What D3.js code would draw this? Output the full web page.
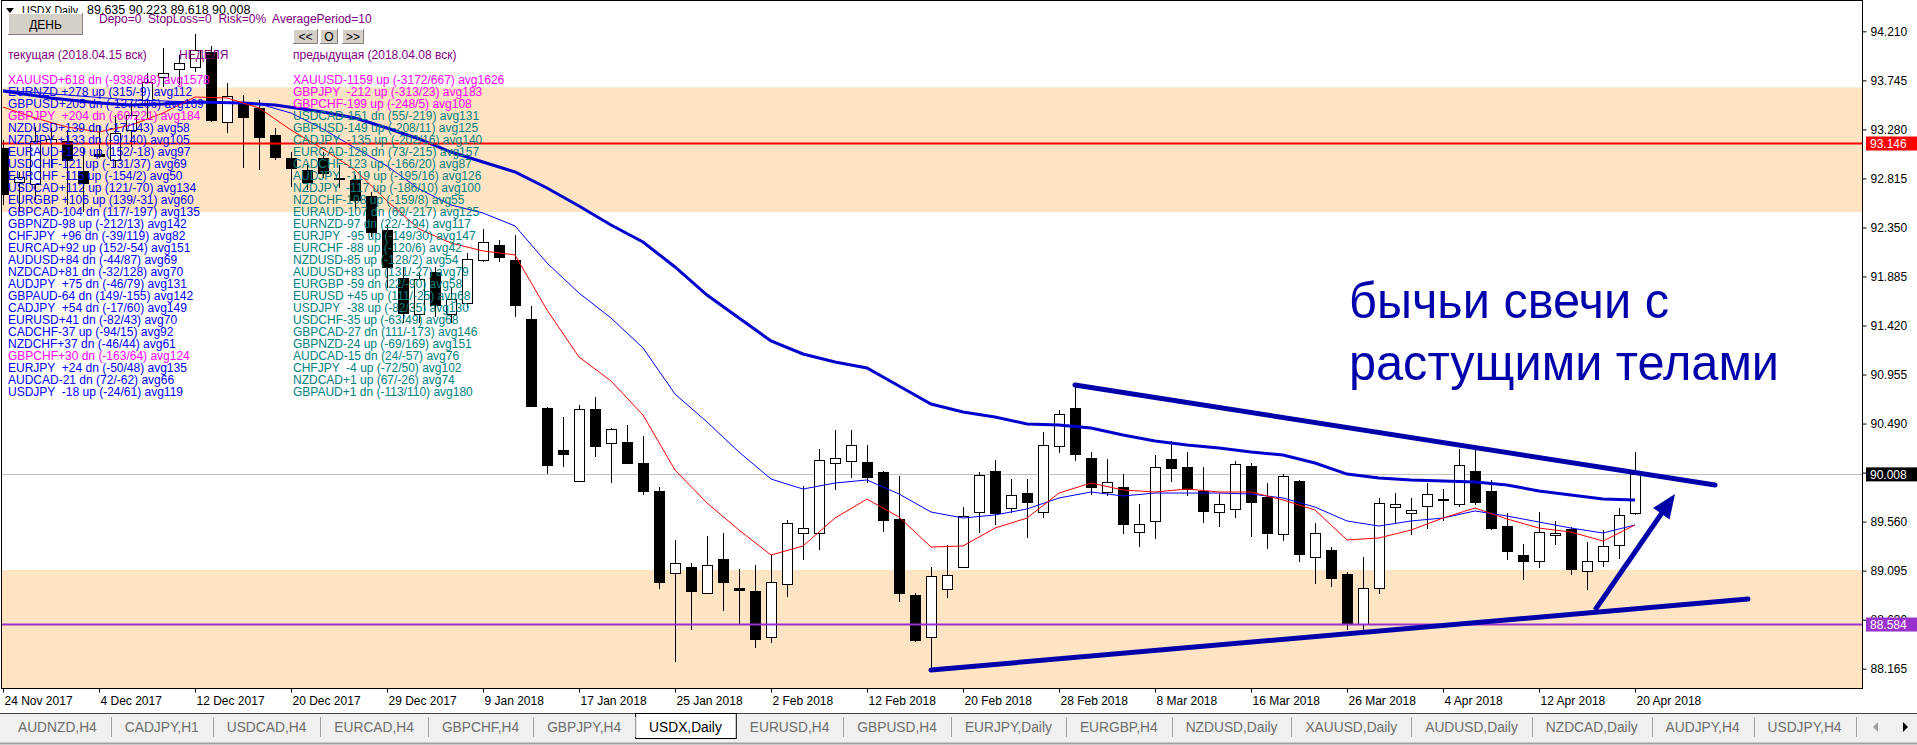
<!DOCTYPE html>
<html>
<head>
<meta charset="utf-8">
<script src="https://cdn.jsdelivr.net/npm/d3@7"></script>
<style>
body { margin: 0; background: #fff; overflow: hidden; }
text { font-family: "Liberation Sans", Arial, sans-serif; }
</style>
</head>
<body>
<div id="vis1"></div>
<script>
const frame_width = 1917;
const frame_height = 745;
const plot = {left: 1, right: 1862, top: 0, bottom: 688};

// daily bars, 24 Nov 2017 .. 20 Apr 2018
const open = [93.103,92.781,92.762,93.151,93.170,92.885,93.046,92.990,93.274,93.559,93.777,93.853,93.872,94.014,93.350,93.530,93.483,93.227,93.009,92.895,93.009,92.815,92.800,92.648,92.326,91.870,91.529,91.927,91.529,91.633,92.041,92.183,92.041,91.482,90.638,90.239,89.945,90.628,90.306,90.315,90.116,89.850,89.073,89.129,88.883,89.205,88.930,88.902,88.466,88.968,89.452,89.452,90.116,90.135,90.125,90.031,89.585,88.864,88.466,88.921,89.129,89.651,90.040,89.689,89.831,89.651,90.277,90.638,90.163,89.841,89.888,89.461,89.566,90.154,90.078,89.850,89.651,89.680,90.087,89.793,89.443,89.945,89.224,89.291,89.063,88.589,88.930,89.698,89.642,89.708,89.765,89.727,90.040,89.850,89.518,89.243,89.186,89.433,89.490,89.092,89.186,89.338,89.635];
const high = [93.179,92.876,93.303,93.293,93.274,93.103,93.312,93.416,93.540,93.815,94.052,93.985,94.185,94.071,93.720,93.606,93.559,93.293,93.065,92.961,93.065,92.942,92.847,92.686,92.373,91.975,91.918,91.975,91.785,92.108,92.335,92.231,92.278,91.605,90.647,90.552,90.666,90.742,90.448,90.476,90.372,89.888,89.386,89.167,89.424,89.452,89.110,89.148,89.243,89.575,89.898,90.249,90.429,90.429,90.287,90.040,89.993,88.883,89.129,89.338,89.698,90.031,90.144,89.964,89.964,90.410,90.619,90.856,90.220,90.154,90.011,89.727,90.192,90.325,90.220,90.078,89.822,90.135,90.116,89.926,90.011,89.955,89.547,89.319,89.082,89.224,89.784,89.831,89.784,89.926,89.869,90.249,90.239,89.955,89.642,89.348,89.651,89.566,89.509,89.367,89.480,89.689,90.223];
const low = [92.563,92.496,92.610,92.914,92.563,92.496,93.009,92.923,93.113,93.388,93.682,93.701,93.824,93.350,93.246,92.914,92.895,92.990,92.734,92.705,92.819,92.724,92.515,92.259,91.776,91.444,91.444,91.501,91.444,91.586,92.022,92.022,91.501,90.647,90.011,90.078,89.936,90.173,89.926,90.106,89.812,88.921,88.229,88.532,88.883,88.712,88.589,88.361,88.409,88.845,89.196,89.291,89.860,89.974,89.926,89.461,88.798,88.418,88.153,88.836,89.120,89.452,89.528,89.642,89.405,89.594,90.211,90.135,89.812,89.803,89.443,89.319,89.395,89.936,89.803,89.547,89.509,89.594,89.414,89.300,89.376,89.177,88.968,88.940,88.532,88.513,88.874,89.547,89.433,89.490,89.566,89.698,89.718,89.480,89.196,89.006,89.120,89.338,89.054,88.911,89.129,89.205,89.618];
const close = [92.667,92.828,93.170,93.189,92.990,92.771,93.027,93.246,93.416,93.729,93.815,93.909,94.033,93.369,93.597,93.397,93.208,93.018,92.914,92.781,92.866,92.822,92.610,92.307,91.975,91.539,91.861,91.614,91.671,92.051,92.212,92.070,91.614,90.656,90.097,90.201,90.628,90.277,90.438,90.116,89.850,88.987,89.167,88.902,89.148,88.987,88.911,88.447,88.987,89.547,89.499,90.144,90.163,90.287,89.983,89.575,88.883,88.437,89.044,89.054,89.613,90.002,89.642,89.812,89.746,90.287,90.581,90.201,89.888,89.936,89.537,89.537,90.078,90.069,89.869,89.661,89.727,90.106,89.746,89.452,89.993,89.253,89.452,89.025,88.598,88.930,89.737,89.727,89.670,89.822,89.774,90.097,89.746,89.499,89.281,89.186,89.461,89.452,89.111,89.186,89.329,89.623,90.008];

// moving averages (bar index / price)
const ma_slow_idx = [0,3,6,8,10,12,15,17,20,22,24,26,28,30,32,34,36,38,40,42,44,46,48,50,52,54,56,58,60,62,64,66,68,70,72,74,76,78,80,82,84,86,88,90,92,94,96,98,100,102];
const ma_slow_val = [93.644,93.578,93.530,93.511,93.521,93.540,93.530,93.511,93.445,93.388,93.293,93.189,93.065,92.971,92.876,92.724,92.553,92.373,92.212,91.975,91.709,91.491,91.273,91.150,91.074,91.017,90.846,90.675,90.600,90.552,90.486,90.476,90.448,90.381,90.325,90.287,90.258,90.220,90.192,90.116,90.011,89.974,89.955,89.945,89.936,89.907,89.850,89.812,89.774,89.765];
const ma_mid_idx = [0,4,8,12,16,18,20,22,24,26,28,30,32,34,36,38,40,42,44,46,48,50,52,54,56,58,60,62,64,66,68,70,72,74,76,78,80,82,84,86,88,90,92,94,96,98,100,102];
const ma_mid_val = [93.653,93.606,93.559,93.540,93.521,93.435,93.284,93.103,92.933,92.715,92.563,92.487,92.364,92.013,91.728,91.491,91.207,90.770,90.505,90.220,89.964,89.869,89.926,89.955,89.822,89.651,89.594,89.623,89.680,89.784,89.841,89.803,89.831,89.831,89.831,89.822,89.784,89.698,89.566,89.518,89.566,89.594,89.661,89.613,89.556,89.499,89.452,89.528];
const ma_fast_idx = [0,2,4,6,8,10,12,14,16,18,20,22,24,26,28,30,32,34,36,38,40,42,44,46,48,50,52,54,56,58,60,62,64,66,68,70,72,74,76,78,80,82,84,86,88,90,92,94,96,98,100,102];
const ma_fast_val = [93.492,93.388,93.303,93.255,93.321,93.435,93.587,93.578,93.483,93.274,93.094,92.895,92.601,92.335,92.202,92.127,92.089,91.567,91.121,90.894,90.571,90.049,89.737,89.480,89.243,89.329,89.594,89.774,89.604,89.319,89.329,89.499,89.594,89.831,89.926,89.860,89.841,89.869,89.841,89.841,89.765,89.670,89.386,89.405,89.480,89.594,89.689,89.585,89.499,89.461,89.376,89.528];

const zones = [[93.679, 92.496], [89.101, 87.982]];
const red_level = 93.146;
const purple_level = 88.584;
const upper_trend = [[67, 90.856], [107, 89.907]];
const lower_trend = [[58, 88.153], [109.06, 88.826]];
const arrow = [[99.5, 88.722], [104.5, 89.822]];

const price_ticks = [94.210,93.745,93.280,92.815,92.350,91.885,91.420,90.955,90.490,90.025,89.560,89.095,88.630,88.165];
const date_labels = ["24 Nov 2017","4 Dec 2017","12 Dec 2017","20 Dec 2017","29 Dec 2017","9 Jan 2018","17 Jan 2018","25 Jan 2018","2 Feb 2018","12 Feb 2018","20 Feb 2018","28 Feb 2018","8 Mar 2018","16 Mar 2018","26 Mar 2018","4 Apr 2018","12 Apr 2018","20 Apr 2018"];
const bars_per_label = 6;

const header_ohlc = "89.635 90.223 89.618 90.008";
const left_rows = ["XAUUSD+618 dn (-938/868) avg1578","EURNZD +278 up (315/-9) avg112","GBPUSD+205 dn (-137/206) avg169","GBPJPY  +204 dn (-60/221) avg184","NZDUSD+139 dn (-17/143) avg58","NZDJPY +133 dn (-9/140) avg105","EURAUD+129 up (152/-18) avg97","USDCHF-121 up (-131/37) avg69","EURCHF -115 up (-154/2) avg50","USDCAD+112 up (121/-70) avg134","EURGBP +106 up (139/-31) avg60","GBPCAD-104 dn (117/-197) avg135","GBPNZD-98 up (-212/13) avg142","CHFJPY  +96 dn (-39/119) avg82","EURCAD+92 up (152/-54) avg151","AUDUSD+84 dn (-44/87) avg69","NZDCAD+81 dn (-32/128) avg70","AUDJPY  +75 dn (-46/79) avg131","GBPAUD-64 dn (149/-155) avg142","CADJPY  +54 dn (-17/60) avg149","EURUSD+41 dn (-82/43) avg70","CADCHF-37 up (-94/15) avg92","NZDCHF+37 dn (-46/44) avg61","GBPCHF+30 dn (-163/64) avg124","EURJPY  +24 dn (-50/48) avg135","AUDCAD-21 dn (72/-62) avg66","USDJPY  -18 up (-24/61) avg119"];
const left_hot = [0, 3, 23];
const right_rows = ["XAUUSD-1159 up (-3172/667) avg1626","GBPJPY  -212 up (-313/23) avg183","GBPCHF-199 up (-248/5) avg108","USDCAD-151 dn (55/-219) avg131","GBPUSD-149 up (-208/11) avg125","CADJPY  -135 up (-202/16) avg140","EURCAD-128 dn (73/-215) avg157","CADCHF-123 up (-166/20) avg87","AUDJPY  -119 up (-195/16) avg126","NZDJPY  -117 up (-186/10) avg100","NZDCHF-108 up (-159/8) avg55","EURAUD-107 dn (69/-217) avg125","EURNZD-97 dn (22/-194) avg117","EURJPY  -95 up (-149/30) avg147","EURCHF -88 up (-120/6) avg42","NZDUSD-85 up (-128/2) avg54","AUDUSD+83 up (131/-27) avg79","EURGBP -59 dn (22/-90) avg58","EURUSD +45 up (111/-25) avg68","USDJPY  -38 up (-82/35) avg130","USDCHF-35 up (-63/49) avg68","GBPCAD-27 dn (111/-173) avg146","GBPNZD-24 up (-69/169) avg151","AUDCAD-15 dn (24/-57) avg76","CHFJPY  -4 up (-72/50) avg102","NZDCAD+1 up (67/-26) avg74","GBPAUD+1 dn (-113/110) avg180"];
const right_hot = [0, 1, 2];
const tabs = ["AUDNZD,H4","CADJPY,H1","USDCAD,H4","EURCAD,H4","GBPCHF,H4","GBPJPY,H4","USDX,Daily","EURUSD,H4","GBPUSD,H4","EURJPY,Daily","EURGBP,H4","NZDUSD,Daily","XAUUSD,Daily","AUDUSD,Daily","NZDCAD,Daily","AUDJPY,H4","USDJPY,H4"];
const active_tab = "USDX,Daily";

const ink = "#0000aa";

const frame1 =
d3.select("#vis1")
    .append("svg")
        .attr("width", frame_width)
        .attr("height", frame_height)
        .style("display", "block");

frame1.append("rect")
    .attr("width", frame_width)
    .attr("height", frame_height)
    .attr("fill", "#fff");

const x_scale =
d3.scaleLinear()
    .domain([-0.125, 116.1875])
    .range([plot.left, plot.right]);
const y_scale =
d3.scaleLinear()
    .domain([87.982, 94.507])
    .range([plot.bottom, plot.top]);

frame1.append("clipPath").attr("id", "plotclip")
    .append("rect")
        .attr("x", plot.left).attr("y", plot.top)
        .attr("width", plot.right - plot.left)
        .attr("height", plot.bottom - plot.top);

const chart = frame1.append("g").attr("clip-path", "url(#plotclip)");

// support / resistance zones
chart.selectAll(".zone")
    .data(zones)
    .enter()
    .append("rect")
        .attr("x", plot.left)
        .attr("width", plot.right - plot.left)
        .attr("y", (d) => y_scale(d[0]))
        .attr("height", (d) => y_scale(d[1]) - y_scale(d[0]))
        .attr("fill", "#ffe4c4");

// bid line
const last_close = close[close.length - 1];
chart.append("line")
    .attr("x1", plot.left).attr("x2", plot.right)
    .attr("y1", Math.round(y_scale(last_close)) + 0.5)
    .attr("y2", Math.round(y_scale(last_close)) + 0.5)
    .attr("stroke", "#c0c0c0");

// candles
const bars = open.map((o, i) => ({i: i, o: o, h: high[i], l: low[i], c: close[i]}));

chart.selectAll(".wick")
    .data(bars)
    .enter()
    .append("line")
        .attr("x1", (d) => x_scale(d.i) + 0.5)
        .attr("x2", (d) => x_scale(d.i) + 0.5)
        .attr("y1", (d) => Math.round(y_scale(d.h)))
        .attr("y2", (d) => Math.round(y_scale(d.l)))
        .attr("stroke", "#000");

chart.selectAll(".body")
    .data(bars)
    .enter()
    .append("rect")
        .attr("x", (d) => x_scale(d.i) - 4.5)
        .attr("width", 10)
        .attr("y", (d) => Math.round(y_scale(Math.max(d.o, d.c))) + 0.5)
        .attr("height", (d) => Math.max(1, Math.round(Math.abs(y_scale(d.o) - y_scale(d.c)))))
        .attr("fill", (d) => d.c >= d.o ? "#fff" : "#000")
        .attr("stroke", "#000");

// moving averages
const ma_line = d3.line()
    .x((d) => x_scale(d[0]))
    .y((d) => y_scale(d[1]));

const mas = [
    {idx: ma_slow_idx, val: ma_slow_val, color: "#0000cd", width: 3},
    {idx: ma_mid_idx, val: ma_mid_val, color: "#0000ff", width: 1},
    {idx: ma_fast_idx, val: ma_fast_val, color: "#ff0000", width: 1}
];
chart.selectAll(".ma")
    .data(mas)
    .enter()
    .append("path")
        .attr("d", (d) => ma_line(d.idx.map((k, j) => [k, d.val[j]])))
        .attr("fill", "none")
        .attr("stroke", (d) => d.color)
        .attr("stroke-width", (d) => d.width);

// horizontal levels
chart.selectAll(".level")
    .data([{v: red_level, c: "#ff0000"}, {v: purple_level, c: "#9932cc"}])
    .enter()
    .append("line")
        .attr("x1", plot.left).attr("x2", plot.right)
        .attr("y1", (d) => y_scale(d.v)).attr("y2", (d) => y_scale(d.v))
        .attr("stroke", (d) => d.c)
        .attr("stroke-width", 2);

// trend lines
chart.selectAll(".trend")
    .data([upper_trend, lower_trend])
    .enter()
    .append("line")
        .attr("x1", (d) => x_scale(d[0][0])).attr("y1", (d) => y_scale(d[0][1]))
        .attr("x2", (d) => x_scale(d[1][0])).attr("y2", (d) => y_scale(d[1][1]))
        .attr("stroke", ink)
        .attr("stroke-width", 5)
        .attr("stroke-linecap", "round");

// arrow
const ax0 = x_scale(arrow[0][0]), ay0 = y_scale(arrow[0][1]);
const ax1 = x_scale(arrow[1][0]), ay1 = y_scale(arrow[1][1]);
const alen = Math.hypot(ax1 - ax0, ay1 - ay0);
const ux = (ax1 - ax0) / alen, uy = (ay1 - ay0) / alen;
const head = 24, half = 10;
chart.append("line")
    .attr("x1", ax0).attr("y1", ay0)
    .attr("x2", ax1 - ux * head * 0.7).attr("y2", ay1 - uy * head * 0.7)
    .attr("stroke", ink)
    .attr("stroke-width", 5);
chart.append("path")
    .attr("d", "M" + ax1 + "," + ay1 +
        "L" + (ax1 - ux * head - uy * half) + "," + (ay1 - uy * head + ux * half) +
        "L" + (ax1 - ux * head + uy * half) + "," + (ay1 - uy * head - ux * half) + "Z")
    .attr("fill", ink);

// annotation
const note = chart.append("g")
    .attr("fill", ink)
    .attr("font-size", "50px");
note.append("text").attr("x", 1349).attr("y", 318)
    .attr("textLength", 320).attr("lengthAdjust", "spacingAndGlyphs")
    .text("бычьи свечи с");
note.append("text").attr("x", 1349).attr("y", 380)
    .attr("textLength", 430).attr("lengthAdjust", "spacingAndGlyphs")
    .text("растущими телами");

// frame
frame1.append("rect")
    .attr("x", plot.left + 0.5).attr("y", plot.top + 0.5)
    .attr("width", plot.right - plot.left)
    .attr("height", plot.bottom - plot.top)
    .attr("fill", "none")
    .attr("stroke", "#000");

// price axis
frame1.append("g")
    .attr("transform", "translate(" + (plot.right + 0.5) + ",0)")
    .call(
        d3.axisRight()
            .scale(y_scale)
            .tickValues(price_ticks)
            .tickFormat(d3.format(".3f"))
            .tickSize(4)
            .tickPadding(4)
    )
    .call((g) => g.select(".domain").remove())
    .attr("font-family", "Liberation Sans, Arial, sans-serif")
    .attr("font-size", "12px");

// date axis
frame1.append("g")
    .attr("transform", "translate(0," + (plot.bottom + 0.5) + ")")
    .call(
        d3.axisBottom()
            .scale(x_scale)
            .tickValues(date_labels.map((d, k) => k * bars_per_label))
            .tickFormat((d) => date_labels[d / bars_per_label])
            .tickSize(4)
            .tickPadding(4)
    )
    .call((g) => g.select(".domain").remove())
    .call((g) => g.selectAll(".tick text").attr("text-anchor", "start").attr("x", 1))
    .attr("font-family", "Liberation Sans, Arial, sans-serif")
    .attr("font-size", "12px");

// price tags on the axis
const tags = [
    {v: red_level, c: "#ff0000"},
    {v: last_close, c: "#000000"},
    {v: purple_level, c: "#9932cc"}
];
const tag = frame1.selectAll(".tag")
    .data(tags)
    .enter()
    .append("g");
tag.append("rect")
    .attr("x", plot.right + 4)
    .attr("y", (d) => y_scale(d.v) - 7)
    .attr("width", frame_width - plot.right - 4)
    .attr("height", 14)
    .attr("fill", (d) => d.c);
tag.append("text")
    .attr("x", plot.right + 8)
    .attr("y", (d) => y_scale(d.v) + 4.5)
    .attr("fill", "#fff")
    .attr("font-size", "12px")
    .text((d) => d3.format(".3f")(d.v));

// header
frame1.append("path").attr("d", "M6,8L14,8L10,13Z").attr("fill", "#000");
frame1.append("text").attr("x", 22).attr("y", 14.5).attr("font-size", "12px")
    .attr("textLength", 56).attr("lengthAdjust", "spacingAndGlyphs").text("USDX,Daily");
frame1.append("text").attr("x", 87).attr("y", 14).attr("font-size", "12.5px").text(header_ohlc);

function button(x, y, w, h, label) {
    const b = frame1.append("g");
    b.append("rect").attr("x", x).attr("y", y).attr("width", w).attr("height", h).attr("fill", "#d4d0c8");
    b.append("path").attr("d", "M" + (x + 0.5) + "," + (y + h) + "V" + (y + 0.5) + "H" + (x + w))
        .attr("stroke", "#fff").attr("fill", "none");
    b.append("path").attr("d", "M" + x + "," + (y + h - 0.5) + "H" + (x + w - 0.5) + "V" + y)
        .attr("stroke", "#808080").attr("fill", "none");
    b.append("text").attr("x", x + w / 2).attr("y", y + h / 2 + 4.5)
        .attr("text-anchor", "middle").attr("font-size", "12px").attr("fill", "#000").text(label);
}
button(8, 13, 75, 22, "ДЕНЬ");
button(293, 29, 25, 15, "<<");
button(320, 29, 18, 15, "O");
button(342, 29, 22, 15, ">>");

const purple = "#800080";
frame1.append("text").attr("x", 99).attr("y", 23).attr("font-size", "12px").attr("fill", purple)
    .style("white-space", "pre").text("Depo=0  StopLoss=0  Risk=0%  AveragePeriod=10");
frame1.append("text").attr("x", 8).attr("y", 59).attr("font-size", "12px").attr("fill", purple).text("текущая (2018.04.15 вск)");
frame1.append("text").attr("x", 179).attr("y", 59).attr("font-size", "12px").attr("fill", purple).text("НЕДЕЛЯ");
frame1.append("text").attr("x", 293).attr("y", 59).attr("font-size", "12px").attr("fill", purple).text("предыдущая (2018.04.08 вск)");

frame1.selectAll(".lrow")
    .data(left_rows)
    .enter()
    .append("text")
        .attr("x", 8)
        .attr("y", (d, k) => 83.5 + k * 12)
        .attr("font-size", "12px")
        .style("white-space", "pre")
        .attr("fill", (d, k) => left_hot.includes(k) ? "#ff00ff" : "#0000ff")
        .text((d) => d);
frame1.selectAll(".rrow")
    .data(right_rows)
    .enter()
    .append("text")
        .attr("x", 293)
        .attr("y", (d, k) => 83.5 + k * 12)
        .attr("font-size", "12px")
        .style("white-space", "pre")
        .attr("fill", (d, k) => right_hot.includes(k) ? "#ff00ff" : "#008080")
        .text((d) => d);

// tab strip
frame1.append("rect").attr("x", 0).attr("y", 713).attr("width", frame_width).attr("height", 32).attr("fill", "#f0f0f0");
frame1.append("line").attr("x1", 0).attr("x2", frame_width).attr("y1", 713.5).attr("y2", 713.5).attr("stroke", "#404040");
frame1.append("line").attr("x1", 0).attr("x2", frame_width).attr("y1", 743.5).attr("y2", 743.5).attr("stroke", "#a0a0a0").attr("stroke-width", 2);

const tab_start = 18, tab_end = 1843, tab_pad = 14;
const tab_g = frame1.append("g")
    .attr("font-family", "'Noto Sans', sans-serif");
const tab_text = tab_g.selectAll(".tabtext")
    .data(tabs)
    .enter()
    .append("text")
        .attr("y", 732)
        .attr("font-size", "14px")
        .attr("fill", (d) => d === active_tab ? "#000" : "#6d6d6d")
        .text((d) => d);
// fit the strip to the window width
let natural = 0;
tab_text.each(function () { natural += this.getComputedTextLength(); });
const fit = (tab_end - tab_start - 2 * tab_pad * (tabs.length - 1)) / natural;
tab_text.attr("font-size", (14 * fit) + "px");
let tx = tab_start;
tab_text.each(function (d) {
    const w = this.getComputedTextLength();
    d3.select(this).attr("x", tx);
    if (d === active_tab) {
        tab_g.insert("rect", "text")
            .attr("x", tx - tab_pad + 0.5).attr("y", 713.5)
            .attr("width", w + 2 * tab_pad).attr("height", 25)
            .attr("fill", "#fff").attr("stroke", "#000");
    } else {
        tab_g.append("line")
            .attr("x1", Math.round(tx + w + tab_pad) + 0.5).attr("x2", Math.round(tx + w + tab_pad) + 0.5)
            .attr("y1", 717).attr("y2", 737)
            .attr("stroke", "#a0a0a0");
    }
    tx += w + 2 * tab_pad;
});
frame1.append("path").attr("d", "M1873,727L1878,722L1878,732Z").attr("fill", "#a0a0a0");
frame1.append("path").attr("d", "M1908,727L1903,722L1903,732Z").attr("fill", "#000");
</script>
</body>
</html>
